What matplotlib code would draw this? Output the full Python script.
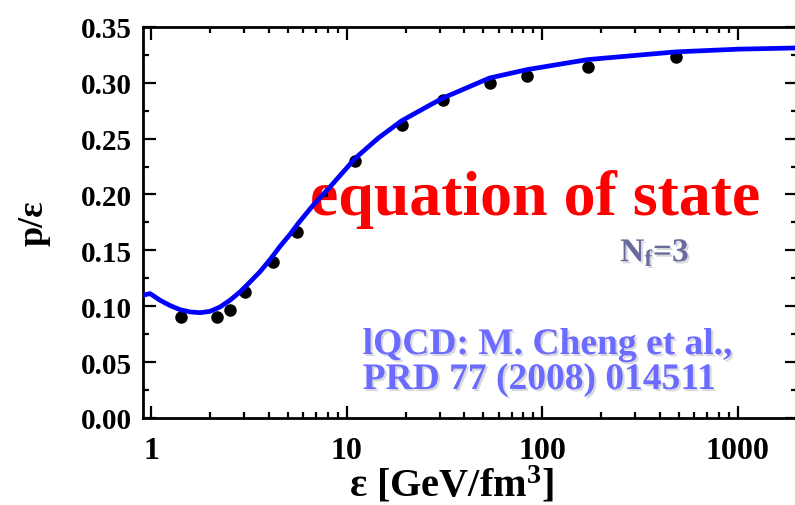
import matplotlib
matplotlib.use("Agg")
import matplotlib.pyplot as plt
import matplotlib.ticker as ticker
import matplotlib.patheffects as pe

plt.rcParams['font.family'] = ['Liberation Serif', 'DejaVu Serif']
plt.rcParams['font.weight'] = 'bold'
plt.rcParams['mathtext.fontset'] = 'custom'
plt.rcParams['mathtext.rm'] = 'Liberation Serif:bold'
plt.rcParams['mathtext.it'] = 'Liberation Serif:bold'
plt.rcParams['mathtext.bf'] = 'Liberation Serif:bold'

# lattice QCD points (Cheng et al., Nf=3)
eps_lat = [1.42, 2.16, 2.54, 3.03, 4.21, 5.59, 8.1, 11.07, 19.1, 31.1, 54.0, 83.2, 171, 484]
p_over_eps_lat = [0.0904, 0.0904, 0.0963, 0.1128, 0.1397, 0.1667, 0.201, 0.2295,
                  0.2623, 0.2848, 0.2997, 0.3063, 0.3138, 0.3228]

# model equation of state
eps_eos = [0.91, 0.988, 1.112, 1.25, 1.406, 1.582, 1.78, 2.0, 2.25, 2.53, 2.85,
           3.21, 3.61, 4.06, 4.56, 5.13, 5.65, 6.8, 8.1, 11.07, 14.5, 19.1,
           26.1, 31.1, 53.8, 83.6, 171, 484, 1000, 2000]
p_over_eps_eos = [0.1099, 0.1113, 0.1053, 0.1006, 0.0969, 0.0949, 0.0942, 0.0954,
                  0.0993, 0.1053, 0.1128, 0.1218, 0.1310, 0.1418, 0.1535, 0.1642,
                  0.1741, 0.1912, 0.2055, 0.2324, 0.2504, 0.2659, 0.2791, 0.2863,
                  0.3042, 0.3117, 0.3207, 0.3276, 0.3300, 0.3311]

fig = plt.figure(figsize=(7.95, 5.06), dpi=100)
ax = fig.add_axes([0.18, 0.172, 0.822, 0.773])

ax.plot(eps_lat, p_over_eps_lat, 'o', color='black', markersize=8, zorder=2)
ax.plot(eps_eos, p_over_eps_eos, '-', color='#0000ff', linewidth=3.4, zorder=4,
        solid_capstyle='round', solid_joinstyle='round')

ax.set_xscale('log')
ax.set_xlim(0.91, 2000)
ax.set_ylim(0.0, 0.35)

ax.xaxis.set_major_locator(ticker.LogLocator(base=10))
ax.xaxis.set_minor_locator(ticker.LogLocator(base=10, subs=range(2, 10)))
ax.xaxis.set_major_formatter(ticker.FuncFormatter(lambda x, _: '%d' % x))
ax.xaxis.set_minor_formatter(ticker.NullFormatter())
ax.yaxis.set_major_locator(ticker.MultipleLocator(0.05))
ax.yaxis.set_minor_locator(ticker.MultipleLocator(0.025))
ax.yaxis.set_major_formatter(ticker.FormatStrFormatter('%.2f'))

ax.tick_params(which='both', direction='in', top=True, right=True, width=1.6)
ax.tick_params(which='major', length=9)
ax.tick_params(which='minor', length=4.5)
ax.tick_params(axis='x', which='major', pad=13, labelsize=23)
ax.tick_params(axis='y', which='major', pad=8, labelsize=21)
for s in ax.spines.values():
    s.set_linewidth(2.0)

ax.set_xlabel('ε [GeV/fm$^{3}$]', fontsize=29, fontweight='bold')
ax.xaxis.set_label_coords(0.472, -0.118)
ax.set_ylabel('p/ε', fontsize=26, fontweight='bold', labelpad=22)

shadow = [pe.withSimplePatchShadow(offset=(1.5, -1.5), shadow_rgbFace='#9090a0', alpha=0.35)]

ax.text(0.255, 0.522, 'equation of state', transform=ax.transAxes, color='#ff0000',
        fontsize=46, fontweight='bold', zorder=3)
ax.text(0.73, 0.40, 'N$_{f}$=3', transform=ax.transAxes, color='#6a6a9c',
        fontsize=24, fontweight='bold', zorder=3, path_effects=shadow)
ax.text(0.336, 0.074, 'lQCD: M. Cheng et al.,\nPRD 77 (2008) 014511', transform=ax.transAxes,
        color='#6b6bff', fontsize=27, fontweight='bold', zorder=3,
        linespacing=1.0, path_effects=shadow)

fig.savefig('out.png', dpi=100)
